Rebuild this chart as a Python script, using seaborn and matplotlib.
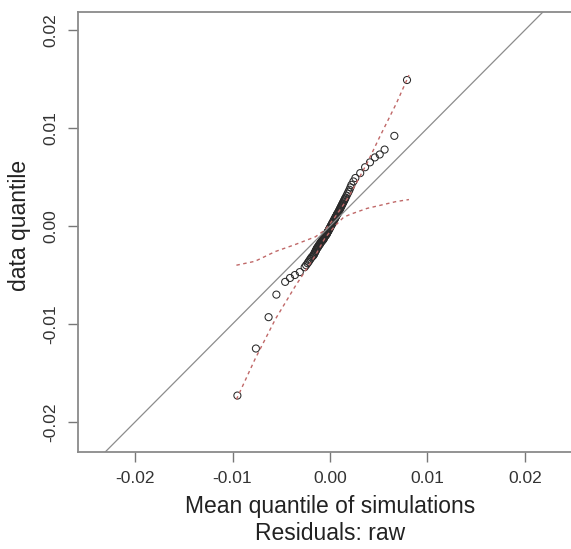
import numpy as np
import pandas as pd
import matplotlib
matplotlib.use("Agg")
import matplotlib.pyplot as plt
import seaborn as sns

# ---- data ----
sim_q = [-0.0095, -0.0076, -0.0063, -0.0055, -0.0046, -0.0041, -0.0036, -0.0031, -0.0026, -0.0023,
         -0.0021, -0.0019, -0.0017, -0.0016, -0.0015, -0.0014, -0.0013, -0.0012, -0.0011, -0.0010,
         -0.0009, -0.0008, -0.00072, -0.00064, -0.00056, -0.00048, -0.0004, -0.00032, -0.00024, -0.00016,
         -0.00008, 0.0, 0.00008, 0.00016, 0.00024, 0.00032, 0.0004, 0.00048, 0.00056, 0.00064,
         0.00072, 0.0008, 0.0009, 0.0010, 0.0011, 0.0012, 0.0013, 0.0014, 0.0015, 0.0016,
         0.0018, 0.0020, 0.0022, 0.0026, 0.0031, 0.0036, 0.0041, 0.0046, 0.0051, 0.0056,
         0.0066, 0.0079]
data_q = [-0.0173, -0.0125, -0.0093, -0.0070, -0.0057, -0.0053, -0.0050, -0.0047, -0.0042, -0.0038,
          -0.0035, -0.0032, -0.0030, -0.0028, -0.0026, -0.0024, -0.0022, -0.0021, -0.0019, -0.0018,
          -0.0016, -0.0015, -0.0014, -0.0013, -0.0011, -0.0010, -0.0009, -0.0008, -0.0006, -0.0005,
          -0.0003, -0.0002, 0.0000, 0.0001, 0.0003, 0.0004, 0.0006, 0.0007, 0.0009, 0.0010,
          0.0012, 0.0013, 0.0015, 0.0017, 0.0019, 0.0021, 0.0023, 0.0025, 0.0027, 0.0029,
          0.0033, 0.0037, 0.0042, 0.0049, 0.0054, 0.0060, 0.0065, 0.0070, 0.0073, 0.0078,
          0.0092, 0.0149]

# extra points of the dense central band
sim_q_mid = [-0.00245, -0.0022, -0.0020, -0.0018, -0.00165, -0.00155, -0.00145, -0.00135, -0.00125,
             -0.00115, -0.00105, -0.00095, -0.00085, -0.00076, -0.00068, -0.0006, -0.00052, -0.00044,
             -0.00036, -0.00028, -0.0002, -0.00012, -0.00004, 0.00004, 0.00012, 0.0002, 0.00028,
             0.00036, 0.00044, 0.00052, 0.0006, 0.00068, 0.00076, 0.00085, 0.00095, 0.00105,
             0.00115, 0.00125, 0.00135, 0.00145, 0.00155, 0.0017, 0.0019, 0.0021, 0.0024]
data_q_mid = [-0.0040, -0.00365, -0.00335, -0.0031, -0.0029, -0.0027, -0.0025, -0.0023, -0.00215,
              -0.0020, -0.00185, -0.0017, -0.00155, -0.00145, -0.00135, -0.0012, -0.00105, -0.00095,
              -0.00085, -0.0007, -0.00055, -0.0004, -0.00025, -0.0001, 0.00005, 0.0002, 0.00035,
              0.0005, 0.00065, 0.0008, 0.00095, 0.0011, 0.00125, 0.0014, 0.0016, 0.0018,
              0.0020, 0.0022, 0.0024, 0.0026, 0.0028, 0.0031, 0.0035, 0.00395, 0.00455]

env_x = [-0.0096, -0.0077, -0.0056, -0.0036, -0.0015, -0.0005, 0.0005, 0.0014, 0.0021, 0.0038,
         0.0051, 0.0068, 0.0081]
env_upper = [-0.0040, -0.0036, -0.0026, -0.0019, -0.0011, -0.0004, 0.0009, 0.0022, 0.0033, 0.0064,
             0.0091, 0.0125, 0.0154]
env_lower = [-0.0177, -0.0136, -0.0095, -0.0062, -0.0030, -0.0012, 0.0000, 0.0009, 0.0012, 0.0018,
             0.0021, 0.0025, 0.0027]

tick_vals = [-0.02, -0.01, 0.0, 0.01, 0.02]
tick_labels = ["-0.02", "-0.01", "0.00", "0.01", "0.02"]

x_label = "Mean quantile of simulations"
sub_label = "Residuals: raw"
y_label = "data quantile"

# ---- style ----
sns.set_style("ticks")
plt.rcParams["font.family"] = ["Liberation Sans", "DejaVu Sans"]
plt.rcParams["axes.unicode_minus"] = False

W, H = 571, 549
fig = plt.figure(figsize=(W / 100, H / 100), dpi=100)
ax = fig.add_axes([78 / W, (H - 452) / H, (582 - 78) / W, 440 / H])

red = "#c06868"
pts = pd.DataFrame({"sim": sim_q + sim_q_mid, "data": data_q + data_q_mid})
env = pd.DataFrame({"x": env_x, "upper": env_upper, "lower": env_lower})

sns.lineplot(data=env, x="x", y="upper", ax=ax, color=red, lw=1.0,
             linestyle=(0, (2.5, 2.5)), sort=False)
sns.lineplot(data=env, x="x", y="lower", ax=ax, color=red, lw=1.0,
             linestyle=(0, (2.5, 2.5)), sort=False)

ax.axline((0, 0), slope=1, color="#8c8c8c", lw=0.9)

sns.scatterplot(data=pts, x="sim", y="data", ax=ax, s=26, marker="o", linewidth=0.75)
coll = ax.collections[-1]
coll.set_facecolor("none")
coll.set_edgecolor("#2a2a2a")

ax.set_xlim(-0.02585, 0.02585)
ax.set_ylim(-0.02306, 0.02184)

ax.set_xticks(tick_vals)
ax.set_xticklabels(tick_labels)
ax.set_yticks(tick_vals)
ax.set_yticklabels(tick_labels)

ax.tick_params(axis="both", length=7, width=1, color="#777777",
               labelcolor="#333333", labelsize=12.5, pad=7)
ax.tick_params(axis="y", labelrotation=90)
for lbl in ax.get_yticklabels():
    lbl.set_va("center")

for sp in ax.spines.values():
    sp.set_color("#8a8a8a")
    sp.set_linewidth(1.3)

ax.set_xlabel(x_label, fontsize=16.5, color="#222222")
ax.xaxis.label.set_va("center")
ax.xaxis.set_label_coords(0.5, -(507 - 452) / 440)

ax.set_ylabel(y_label, fontsize=16.5, color="#222222")
ax.yaxis.label.set_va("center")
ax.yaxis.set_label_coords(-(78 - 20) / 504, (452 - 225) / 440)

ax.text(0.5, -(533 - 452) / 440, sub_label, transform=ax.transAxes,
        ha="center", va="center", fontsize=16.5, color="#222222")

fig.savefig("out.png", dpi=100)
